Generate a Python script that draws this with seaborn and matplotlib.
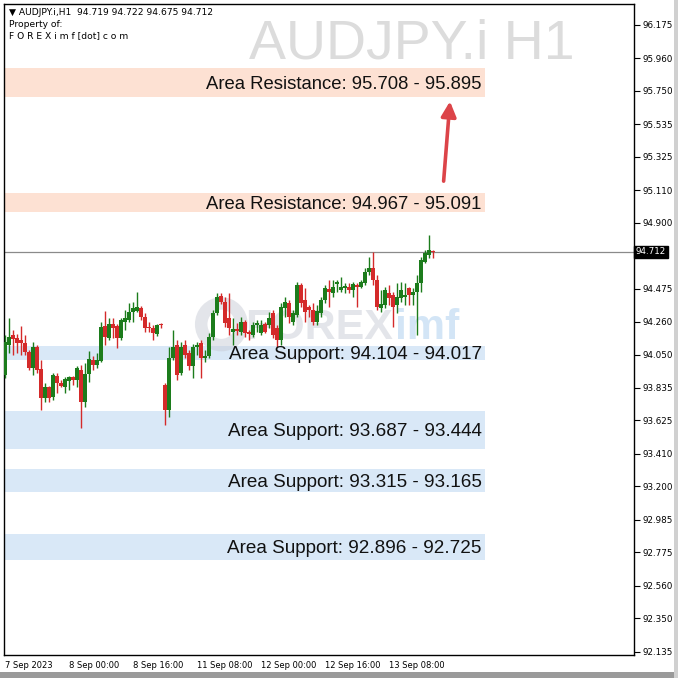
import numpy as np
import pandas as pd
import matplotlib
matplotlib.use("Agg")
import matplotlib.pyplot as plt
import seaborn as sns

# H1 candles, AUDJPY.i, 7 Sep 08:00 -> 13 Sep 19:00
opens = [93.918, 94.112, 94.176, 94.157, 94.144, 94.125, 94.067, 93.964, 94.099, 93.957,
         93.770, 93.841, 93.777, 93.912, 93.867, 93.841, 93.880, 93.906, 93.886, 93.951,
         93.744, 93.925, 94.015, 93.983, 94.009, 94.234, 94.157, 94.247, 94.234, 94.157,
         94.260, 94.273, 94.325, 94.331, 94.350, 94.292, 94.228, 94.221, 94.183, 94.247,
         93.854, 93.693, 94.028, 94.112, 93.931, 94.112, 94.060, 93.977, 94.099, 94.125,
         94.028, 94.041, 94.164, 94.318, 94.428, 94.389, 94.286, 94.196, 94.215, 94.196,
         94.260, 94.196, 94.176, 94.241, 94.189, 94.247, 94.241, 94.318, 94.221, 94.144,
         94.350, 94.383, 94.260, 94.305, 94.499, 94.402, 94.357, 94.338, 94.260, 94.318,
         94.402, 94.473, 94.447, 94.505, 94.466, 94.479, 94.486, 94.466, 94.499, 94.486,
         94.512, 94.583, 94.608, 94.531, 94.350, 94.370, 94.447, 94.434, 94.370, 94.415,
         94.421, 94.479, 94.434, 94.454, 94.512, 94.647, 94.692, 94.719]
highs = [94.176, 94.286, 94.209, 94.183, 94.234, 94.176, 94.080, 94.131, 94.112, 94.015,
         93.867, 93.848, 93.931, 93.931, 93.886, 93.906, 93.912, 93.912, 93.977, 93.983,
         93.996, 94.073, 94.041, 94.060, 94.260, 94.331, 94.286, 94.286, 94.247, 94.286,
         94.338, 94.383, 94.389, 94.454, 94.363, 94.318, 94.260, 94.241, 94.247, 94.254,
         93.867, 94.099, 94.209, 94.144, 94.131, 94.144, 94.080, 94.118, 94.131, 94.144,
         94.080, 94.189, 94.338, 94.447, 94.447, 94.421, 94.447, 94.286, 94.254, 94.292,
         94.273, 94.209, 94.260, 94.273, 94.273, 94.260, 94.325, 94.338, 94.241, 94.383,
         94.421, 94.402, 94.338, 94.518, 94.512, 94.479, 94.370, 94.383, 94.370, 94.421,
         94.499, 94.531, 94.531, 94.531, 94.550, 94.512, 94.512, 94.518, 94.512, 94.531,
         94.608, 94.679, 94.712, 94.563, 94.466, 94.486, 94.499, 94.454, 94.512, 94.518,
         94.512, 94.486, 94.479, 94.563, 94.679, 94.724, 94.821, 94.722]
lows = [93.899, 94.060, 94.047, 94.060, 94.047, 94.047, 93.951, 93.918, 93.931, 93.693,
        93.744, 93.744, 93.757, 93.802, 93.841, 93.802, 93.822, 93.854, 93.841, 93.577,
        93.712, 93.873, 93.951, 93.964, 94.002, 94.112, 94.144, 94.157, 94.093, 94.144,
        94.209, 94.260, 94.260, 94.325, 94.273, 94.196, 94.196, 94.144, 94.170, 94.221,
        93.596, 93.648, 94.015, 93.886, 93.918, 94.028, 93.951, 93.899, 94.047, 93.899,
        94.002, 94.028, 94.144, 94.305, 94.376, 94.228, 94.176, 94.112, 94.176, 94.176,
        94.164, 94.144, 94.164, 94.196, 94.176, 94.189, 94.221, 94.157, 94.099, 94.112,
        94.292, 94.254, 94.241, 94.292, 94.357, 94.260, 94.292, 94.241, 94.241, 94.292,
        94.383, 94.357, 94.421, 94.454, 94.454, 94.447, 94.447, 94.421, 94.357, 94.479,
        94.499, 94.563, 94.499, 94.338, 94.325, 94.350, 94.370, 94.228, 94.318, 94.389,
        94.370, 94.370, 94.370, 94.176, 94.454, 94.641, 94.673, 94.675]
closes = [94.131, 94.164, 94.151, 94.125, 94.125, 94.067, 93.964, 94.099, 93.951, 93.770,
          93.841, 93.770, 93.918, 93.867, 93.848, 93.893, 93.906, 93.886, 93.964, 93.744,
          93.925, 94.022, 93.983, 94.015, 94.228, 94.164, 94.247, 94.221, 94.157, 94.273,
          94.286, 94.325, 94.350, 94.357, 94.292, 94.221, 94.221, 94.189, 94.241, 94.241,
          93.693, 94.028, 94.099, 93.918, 94.099, 94.047, 93.977, 94.099, 94.112, 94.028,
          94.041, 94.164, 94.318, 94.421, 94.389, 94.254, 94.221, 94.215, 94.202, 94.260,
          94.189, 94.183, 94.241, 94.254, 94.241, 94.196, 94.286, 94.176, 94.144, 94.357,
          94.389, 94.292, 94.318, 94.499, 94.383, 94.325, 94.338, 94.260, 94.331, 94.402,
          94.479, 94.454, 94.486, 94.518, 94.486, 94.492, 94.466, 94.505, 94.486, 94.518,
          94.583, 94.608, 94.531, 94.357, 94.376, 94.466, 94.415, 94.357, 94.421, 94.466,
          94.434, 94.434, 94.454, 94.512, 94.660, 94.705, 94.724, 94.712]

# zones
resistance_zones = [(95.708, 95.895), (94.967, 95.091)]
support_zones = [(94.104, 94.017), (93.687, 93.444), (93.315, 93.165), (92.896, 92.725)]

price_ticks = [96.175, 95.960, 95.750, 95.535, 95.325, 95.110, 94.900, 94.475, 94.260,
               94.050, 93.835, 93.625, 93.410, 93.200, 92.985, 92.775, 92.560, 92.350, 92.135]
time_labels = ["7 Sep 2023", "8 Sep 00:00", "8 Sep 16:00", "11 Sep 08:00",
               "12 Sep 00:00", "12 Sep 16:00", "13 Sep 08:00"]
last_price = 94.712
arrow_from = 95.15
arrow_to = 95.70

times = list(pd.date_range("2023-09-07 08:00", "2023-09-08 23:00", freq="h")) + \
        list(pd.date_range("2023-09-11 00:00", "2023-09-13 19:00", freq="h"))
df = pd.DataFrame({"Time": times, "Open": opens, "High": highs, "Low": lows, "Close": closes})
df["n"] = np.arange(1, len(df) + 1)
df["up"] = df["Close"] >= df["Open"]

sns.set_style("white")
plt.rcParams["font.family"] = ["Liberation Sans", "DejaVu Sans"]

fig = plt.figure(figsize=(6.78, 6.78), dpi=100)
fig.patch.set_facecolor("white")
ax = fig.add_axes([4 / 678, 23 / 678, 630 / 678, 651 / 678])

col_up = "#1c7c1c"
col_dn = "#d42a2a"
zone_right = 121

# zones
for lo, hi in resistance_zones:
    ax.axhspan(min(lo, hi), max(lo, hi), xmin=0, xmax=(zone_right - 0.75) / 157.5,
               color="#fde1d3", zorder=0, lw=0)
    ax.text(zone_right - 0.8, (lo + hi) / 2, f"Area Resistance: {lo:.3f} - {hi:.3f}",
            ha="right", va="center_baseline", fontsize=13.3, color="#111111", zorder=5)
for hi, lo in support_zones:
    ax.axhspan(lo, hi, xmin=0, xmax=(zone_right - 0.75) / 157.5,
               color="#d9e8f7", zorder=0, lw=0)
    ax.text(zone_right - 0.8, (lo + hi) / 2, f"Area Support: {hi:.3f} - {lo:.3f}",
            ha="right", va="center_baseline", fontsize=13.6, color="#111111", zorder=5)

# watermarks
ax.text(0.905, 0.978, "AUDJPY.i H1", transform=ax.transAxes, ha="right", va="top",
        fontsize=40, color="#dcdcdc", zorder=1)
wm = ax.text(0.382, 0.486, "FOREX", transform=ax.transAxes, ha="left", va="baseline",
             fontsize=31, fontweight="bold", color="#c9ccd6", alpha=0.5, zorder=1)
ax.annotate("imf", xy=(1.0, 0.0), xycoords=wm, xytext=(2, 0), textcoords="offset points",
            ha="left", va="bottom", fontsize=31, fontweight="bold", color="#a9cdee",
            alpha=0.5, zorder=1)
ax.add_patch(plt.Circle((0.345, 0.508), 0.032, transform=ax.transAxes, fill=False,
                        lw=9, color="#c9ccd6", alpha=0.5, zorder=1))

# last price line
ax.axhline(last_price, color="#8a8a8a", lw=0.9, zorder=2)

# candles
for up, sub in df.groupby("up"):
    c = col_up if up else col_dn
    ax.vlines(sub["n"], sub["Low"], sub["High"], color=c, lw=1, zorder=3)
    ax.bar(sub["n"], (sub["Close"] - sub["Open"]).abs().clip(lower=0.004),
           bottom=sub[["Open", "Close"]].min(axis=1), width=0.78, color=c, lw=0, zorder=4)

# arrow
ax.annotate("", xy=(112.3, arrow_to), xytext=(110.6, arrow_from),
            arrowprops=dict(arrowstyle="-|>,head_length=0.9,head_width=0.45",
                            color="#dc4449", lw=2.6), zorder=6)

# header
hdr = dict(transform=ax.transAxes, ha="left", va="top", fontsize=6.6, color="black",
           family=["DejaVu Sans"])
ax.text(0.008, 0.994, "\u25bc AUDJPY.i,H1  94.719 94.722 94.675 94.712", **hdr)
ax.text(0.008, 0.976, "Property of:", **hdr)
ax.text(0.008, 0.958, "F O R E X i m f [dot] c o m", **hdr)

ax.set_xlim(0.75, 158.25)
ax.set_ylim(92.113, 96.310)

ax.yaxis.tick_right()
ax.set_yticks(price_ticks)
ax.set_yticklabels([f"{v:.3f}" for v in price_ticks], fontsize=6.3, family=["DejaVu Sans"])
ax.tick_params(axis="y", direction="out", length=4, width=0.8, pad=2, colors="black")
ax.text(1.003, last_price, f"{last_price:.3f}", transform=ax.get_yaxis_transform(),
        ha="left", va="center", fontsize=6.3, color="white", family=["DejaVu Sans"],
        bbox=dict(boxstyle="square,pad=0.2", fc="black", ec="black"), clip_on=False)

tick_pos = [1, 17, 33, 49, 65, 81, 97]
ax.set_xticks(tick_pos)
ax.set_xticklabels(time_labels, fontsize=6.0, ha="left", family=["DejaVu Sans"])
ax.tick_params(axis="x", direction="out", length=3, width=0.8, pad=1.5, colors="black")

for s in ax.spines.values():
    s.set_color("black")
    s.set_linewidth(1)

# window frame on right and bottom
fig.add_artist(plt.Rectangle((0, 0), 1, 6 / 678, transform=fig.transFigure,
                             color="#9a9a9a", lw=0))
fig.add_artist(plt.Rectangle((674 / 678, 0), 4 / 678, 1, transform=fig.transFigure,
                             color="#d0d0d0", lw=0))

fig.savefig("out.png", dpi=100, facecolor="white")
